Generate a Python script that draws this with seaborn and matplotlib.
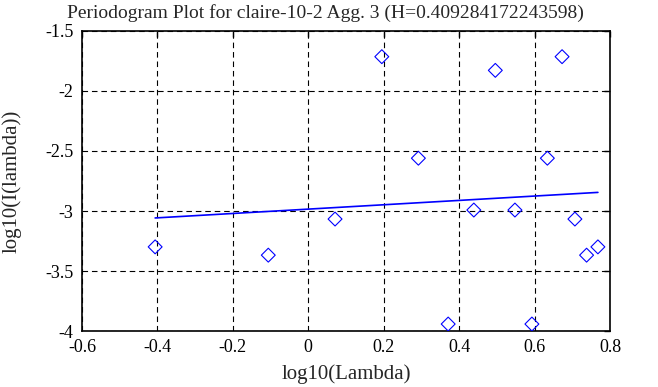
import numpy as np
import pandas as pd
import matplotlib
matplotlib.use("Agg")
import matplotlib.pyplot as plt
import seaborn as sns

# values
log_lambda = [-0.406, -0.106, 0.071, 0.195, 0.292, 0.371, 0.439, 0.496,
              0.548, 0.593, 0.634, 0.673, 0.707, 0.738, 0.768]
log_periodogram = [-3.299, -3.368, -3.067, -1.714, -2.560, -3.942, -2.992, -1.828,
                   -2.992, -3.942, -2.560, -1.714, -3.067, -3.368, -3.299]
fit_x = [-0.406, 0.768]
fit_y = [-3.058, -2.845]
x_ticks = [-0.6, -0.4, -0.2, 0, 0.2, 0.4, 0.6, 0.8]
y_ticks = [-4, -3.5, -3, -2.5, -2, -1.5]
hurst = "0.409284172243598"

df = pd.DataFrame({"x": log_lambda, "y": log_periodogram})
fit = pd.DataFrame({"x": fit_x, "y": fit_y})

sns.set_theme(style="white")
plt.rcParams["font.family"] = ["Liberation Serif", "DejaVu Serif"]
plt.rcParams["font.size"] = 13

fig, ax = plt.subplots(figsize=(6.58, 3.87), dpi=100)
fig.subplots_adjust(left=0.1246, right=0.927, top=0.9199, bottom=0.1447)

sns.scatterplot(data=df, x="x", y="y", marker="D", s=50, facecolor="none",
                edgecolor="blue", linewidth=0.8, ax=ax, zorder=3)
sns.lineplot(data=fit, x="x", y="y", color="blue", linewidth=1.2, ax=ax, zorder=3)

ax.set_xlim(-0.6, 0.8)
ax.set_ylim(-4, -1.5)
ax.set_xticks(x_ticks)
ax.set_xticklabels(["-0.6", "-0.4", "-0.2", "0", "0.2", "0.4", "0.6", "0.8"])
ax.set_yticks(y_ticks)
ax.set_yticklabels(["-4", "-3.5", "-3", "-2.5", "-2", "-1.5"])
ax.grid(True, color="black", linestyle=(0, (5, 3.5)), linewidth=0.8)
ax.tick_params(direction="in", length=4, width=1, top=True, right=True,
               labelsize=13, colors="black", pad=6)
for spine in ax.spines.values():
    spine.set_color("black")
    spine.set_linewidth(1.2)

ax.set_xlabel("log10(Lambda)", fontsize=15, labelpad=6)
ax.set_ylabel("log10(I(lambda))", fontsize=15, labelpad=17)
fig.suptitle("Periodogram Plot for claire-10-2 Agg. 3 (H=" + hurst + ")",
             x=0.494, y=0.99, fontsize=14)

fig.savefig("out.png", dpi=100)
